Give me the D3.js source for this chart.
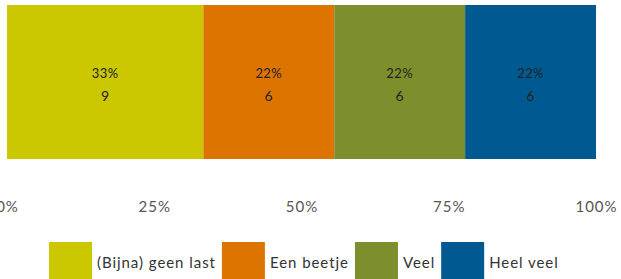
<!DOCTYPE html>
<html>
<head>
<meta charset="utf-8">
<script src="https://cdn.jsdelivr.net/npm/d3@7"></script>
<style>
  body { margin: 0; background: #fff; }
  svg { display: block; font-family: Lato, "Open Sans", sans-serif; }
</style>
</head>
<body>
<svg id="chart" width="621" height="279"></svg>
<script>
// categories and counts
var categories = ["(Bijna) geen last", "Een beetje", "Veel", "Heel veel"];
var counts = [9, 6, 6, 6];
var percents = [33, 22, 22, 22];
var colors = ["#cbc700", "#de7400", "#7c8f2c", "#005a91"];
var tickValues = [0, 0.25, 0.5, 0.75, 1];

var svg = d3.select("#chart");
var total = d3.sum(counts);

var x = d3.scaleLinear().domain([0, 1]).range([7, 596]);

// cumulative start of every segment
var acc = 0;
var segs = counts.map(function(c, i) {
  var s = { start: acc / total, end: (acc + c) / total, i: i };
  acc += c;
  return s;
});

var barTop = 5, barH = 154;

var g = svg.append("g");
g.selectAll("rect")
    .data(segs)
    .enter().append("rect")
    .attr("x", function(d) { return x(d.start); })
    .attr("y", barTop)
    .attr("width", function(d) { return x(d.end) - x(d.start); })
    .attr("height", barH)
    .style("fill", function(d) { return colors[d.i]; });

var lbl = g.selectAll(".lbl")
    .data(segs)
    .enter().append("text")
    .attr("text-anchor", "middle")
    .style("font-size", "13px")
    .style("letter-spacing", "0.4px")
    .style("fill", "#222");
lbl.append("tspan")
    .attr("x", function(d) { return (x(d.start) + x(d.end)) / 2; })
    .attr("y", 78)
    .text(function(d) { return percents[d.i] + "%"; });
lbl.append("tspan")
    .attr("x", function(d) { return (x(d.start) + x(d.end)) / 2; })
    .attr("y", 101)
    .style("font-size", "14px")
    .text(function(d) { return counts[d.i]; });

// axis without line or ticks
var axis = svg.append("g")
    .attr("transform", "translate(0,198)")
    .call(d3.axisBottom(x).tickValues(tickValues).tickSize(0).tickFormat(d3.format(".0%")));
axis.select(".domain").remove();
axis.selectAll("text")
    .attr("dy", "0.71em")
    .style("font-family", "Lato, sans-serif")
    .style("font-size", "15px")
    .style("letter-spacing", "1px")
    .style("fill", "#555");

// legend
var legend = svg.append("g");
var lx = 0;
var items = legend.selectAll("g")
    .data(categories)
    .enter().append("g");
items.append("rect")
    .attr("width", 43)
    .attr("height", 43)
    .attr("y", 242)
    .style("fill", function(d, i) { return colors[i]; });
items.append("text")
    .attr("x", 48)
    .attr("y", 268)
    .style("font-size", "15px")
    .style("letter-spacing", "0.95px")
    .style("fill", "#333")
    .text(function(d) { return d; });
items.each(function() {
  var t = d3.select(this).select("text").node().getComputedTextLength();
  d3.select(this).attr("transform", "translate(" + lx + ",0)");
  lx += 48 + t + 6;
});
legend.attr("transform", "translate(" + (49) + ",0)");
</script>
</body>
</html>
